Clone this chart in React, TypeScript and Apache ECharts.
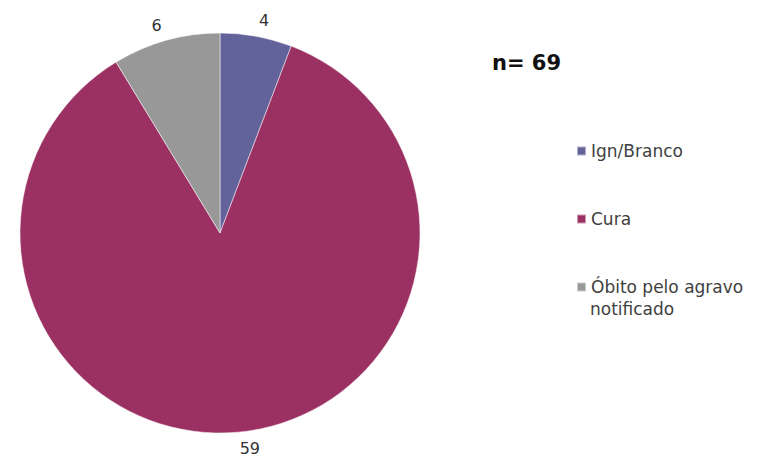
import React, { useEffect, useRef } from "react";
import * as echarts from "echarts";

const categories = ["Ign/Branco", "Cura", "Óbito pelo agravo notificado"];
const values = [4, 59, 6];
const colors = ["#62639b", "#9b3062", "#989898"];
const totalLabel = "n= 69";
const legendNames = ["Ign/Branco", "Cura", "Óbito pelo agravo"];
const legendSecondLine = "notificado";

export default function App() {
  const ref = useRef<HTMLDivElement>(null);

  useEffect(() => {
    if (!ref.current) return;
    const chart = echarts.init(ref.current, undefined, { renderer: "svg" });
    const textFont = "DejaVu Sans";
    chart.setOption({
      animation: false,
      backgroundColor: "#ffffff",
      title: {
        text: totalLabel,
        left: 492,
        top: 50,
        padding: 0,
        textStyle: {
          fontFamily: textFont,
          fontWeight: "bold",
          fontSize: 21,
          lineHeight: 25,
          color: "#111111",
        },
      },
      legend: {
        orient: "vertical",
        left: 576,
        top: 140,
        padding: 0,
        itemGap: 46,
        itemWidth: 9,
        itemHeight: 9,
        icon: "rect",
        selectedMode: false,
        data: categories,
        formatter: (name: string) => legendNames[categories.indexOf(name)],
        textStyle: {
          fontFamily: textFont,
          fontSize: 17,
          lineHeight: 22,
          color: "#404040",
        },
      },
      graphic: [
        {
          type: "text",
          x: 590,
          y: 309,
          style: {
            text: legendSecondLine,
            font: `17px "${textFont}"`,
            fill: "#404040",
            verticalAlign: "middle",
            align: "left",
          },
        },
      ],
      series: [
        {
          type: "pie",
          center: [220, 233],
          radius: 200,
          startAngle: 90,
          clockwise: true,
          avoidLabelOverlap: false,
          data: categories.map((c, i) => ({
            name: c,
            value: values[i],
            itemStyle: { color: colors[i] },
          })),
          itemStyle: {
            borderColor: "rgba(255,255,255,0.5)",
            borderWidth: 1,
          },
          label: {
            show: true,
            position: "outside",
            formatter: "{c}",
            fontFamily: textFont,
            fontSize: 16,
            color: "#333333",
            distanceToLabelLine: 0,
          },
          labelLine: { show: false, length: 16, length2: 0 },
          emphasis: { disabled: true },
        },
      ],
    });
    return () => chart.dispose();
  }, []);

  return (
    <div
      ref={ref}
      style={{ position: "absolute", left: 0, top: 0, width: 761, height: 460 }}
    />
  );
}
